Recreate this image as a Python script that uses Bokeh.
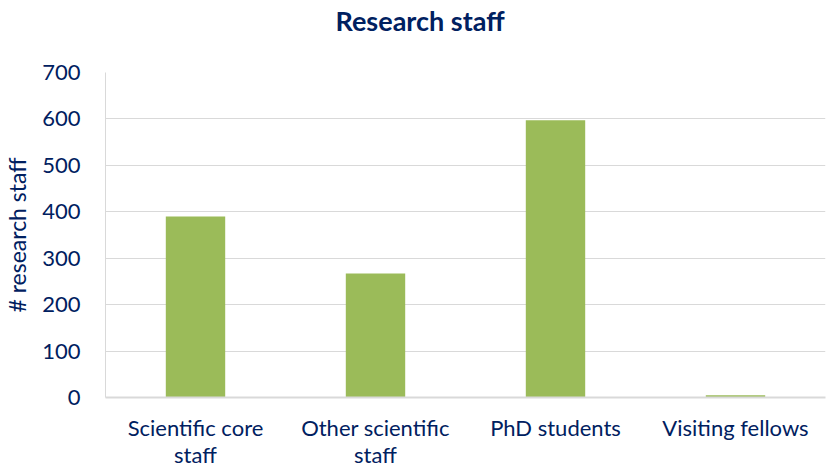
from bokeh.plotting import figure
from bokeh.models import FactorRange, SingleIntervalTicker, ColumnDataSource, Title
from bokeh.embed import file_html
from bokeh.resources import INLINE

categories = ["Scientific core\nstaff", "Other scientific\nstaff", "PhD students", "Visiting fellows"]
values = [390, 267, 597, 5]
title_text = "Research staff"

NAVY = "#002060"
GRID = "#D9D9D9"
FONT = "Lato"

src = ColumnDataSource(dict(cat=categories, val=values))

p = figure(width=826, height=470, x_range=FactorRange(*categories, range_padding=0),
           y_range=(0, 700), output_backend="svg", toolbar_location=None)
p.min_border_left = 101
p.min_border_right = 1
p.min_border_top = 60
p.min_border_bottom = 40

p.vbar(x="cat", top="val", width=0.33, source=src, color="#9BBB59", line_color=None)

# spacer between frame and title
p.add_layout(Title(text=" ", text_font_size="1px", standoff=28), "above")
p.add_layout(Title(text=title_text, text_font=FONT, text_font_size="27px",
                   text_font_style="bold", text_color=NAVY, align="left",
                   offset=230, standoff=6, vertical_align="top"), "above")

p.outline_line_color = None
p.xgrid.grid_line_color = None
p.ygrid.grid_line_color = GRID
p.ygrid.grid_line_width = 1

p.yaxis.ticker = SingleIntervalTicker(interval=100)
p.yaxis.axis_line_color = GRID
p.yaxis.major_tick_line_color = None
p.yaxis.minor_tick_line_color = None
p.yaxis.major_tick_out = 0
p.yaxis.major_label_text_font = FONT
p.yaxis.major_label_text_font_size = "22px"
p.yaxis.major_label_text_color = NAVY
p.yaxis.major_label_standoff = 21
p.yaxis.axis_label = "# research staff"
p.yaxis.axis_label_text_font = FONT
p.yaxis.axis_label_text_font_size = "23px"
p.yaxis.axis_label_text_font_style = "normal"
p.yaxis.axis_label_text_color = NAVY
p.yaxis.axis_label_standoff = 8

p.xaxis.axis_line_color = GRID
p.xaxis.axis_line_width = 2
p.xaxis.major_tick_line_color = None
p.xaxis.minor_tick_line_color = None
p.xaxis.major_tick_out = 0
p.xaxis.axis_label_standoff = 0
p.xaxis.major_label_text_font = FONT
p.xaxis.major_label_text_font_size = "22px"
p.xaxis.major_label_text_color = NAVY
p.xaxis.major_label_text_line_height = 1.0
p.xaxis.major_label_standoff = 16

open("out.html", "w").write(file_html(p, INLINE))
